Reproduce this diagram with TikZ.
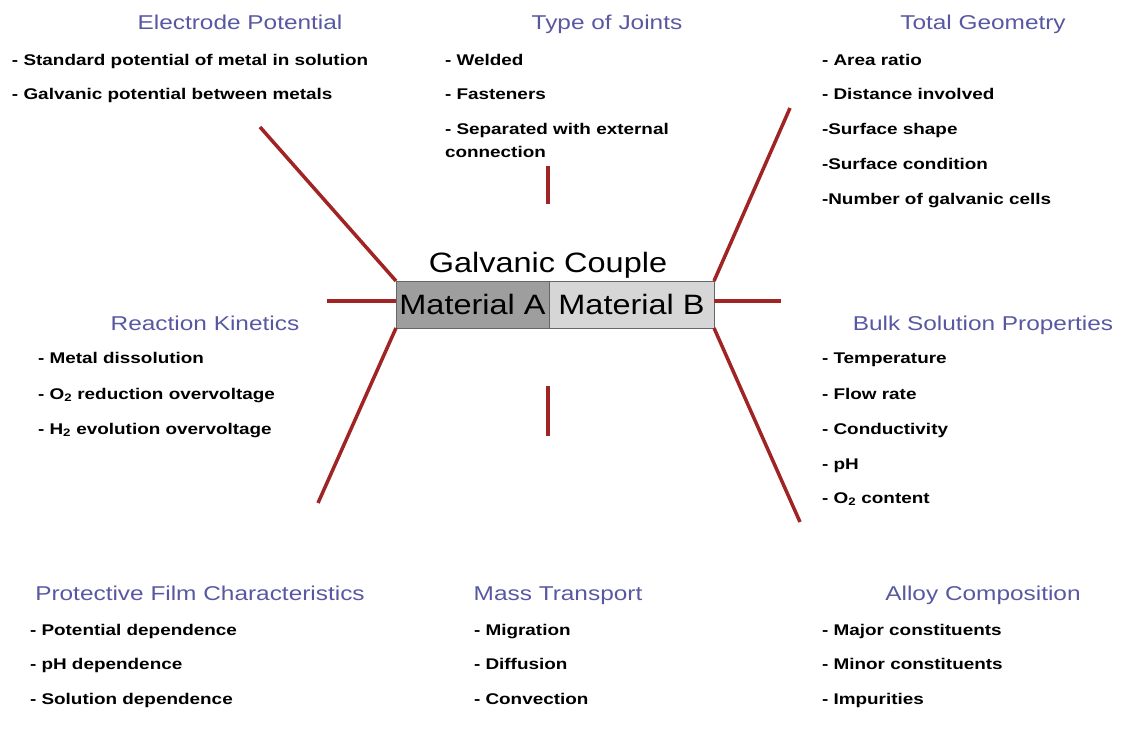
\documentclass[tikz,border=0pt]{standalone}
\usepackage{fontspec}
\setmainfont{Liberation Sans}[FakeStretch=1.22]
\newfontfamily\centerfont{Liberation Sans}[FakeStretch=1.16]
\usepackage{xcolor}
\usetikzlibrary{positioning,calc}
\definecolor{headblue}{RGB}{88,88,162}
\definecolor{branchred}{RGB}{160,36,36}

\begin{document}
\begin{tikzpicture}[x=1pt,y=-1pt,inner sep=0,outer sep=0,
    heading/.style={anchor=base,text=headblue,font=\fontsize{20}{24}\selectfont},
    item/.style={anchor=base west,font=\bfseries\fontsize{15.5}{23}\selectfont},
    branch/.style={branchred,line width=3.5pt},
    matbox/.style={draw=black!60,line width=0.8pt,minimum height=47,font=\centerfont\fontsize{28}{32}\selectfont}]

    % Page frame
    \useasboundingbox (0,0) rectangle (1122,750);

    % The couple
    \node[matbox,fill=black!38,minimum width=153] (matA) at (472.5,304.5) {Material A};
    \node[matbox,fill=black!16,minimum width=165,right=0pt of matA] (matB) {Material B};
    \node[anchor=base,font=\centerfont\fontsize{28}{32}\selectfont] (couple) at (548,272) {Galvanic Couple};

    % Headings
    \node[heading] (hElec) at (240,29) {Electrode Potential};
    \node[heading] (hJoint) at (607,29) {Type of Joints};
    \node[heading] (hGeom) at (983,29) {Total Geometry};
    \node[heading] (hKin) at (205,330) {Reaction Kinetics};
    \node[heading] (hBulk) at (983,330) {Bulk Solution Properties};
    \node[heading] (hFilm) at (200,600) {Protective Film Characteristics};
    \node[heading] (hMass) at (558,600) {Mass Transport};
    \node[heading] (hAlloy) at (983,600) {Alloy Composition};

    % Items
    \node[item] (elec1) at (12,65) {- Standard potential of metal in solution};
    \node[item] (elec2) at (12,99) {- Galvanic potential between metals};

    \node[item] (joint1) at (445,65) {- Welded};
    \node[item] (joint2) at (445,99) {- Fasteners};
    \node[item,align=left] (joint3) at (445,157) {- Separated with external\\connection};

    \foreach \txt [count=\i] in {- Area ratio,- Distance involved,-Surface shape,-Surface condition,-Number of galvanic cells}
      \node[item] (geom\i) at (822,{65+34.8*(\i-1)}) {\txt};

    \node[item] (kin1) at (38,363) {- Metal dissolution};
    \node[item] (kin2) at (38,399) {- O\textsubscript{2} reduction overvoltage};
    \node[item] (kin3) at (38,434) {- H\textsubscript{2} evolution overvoltage};

    \node[item] (bulk1) at (822,363) {- Temperature};
    \node[item] (bulk2) at (822,399) {- Flow rate};
    \node[item] (bulk3) at (822,434) {- Conductivity};
    \node[item] (bulk4) at (822,469) {- pH};
    \node[item] (bulk5) at (822,503) {- O\textsubscript{2} content};

    \foreach \txt [count=\i] in {- Potential dependence,- pH dependence,- Solution dependence}
      \node[item] (film\i) at (30,{635+34.5*(\i-1)}) {\txt};
    \foreach \txt [count=\i] in {- Migration,- Diffusion,- Convection}
      \node[item] (mass\i) at (474,{635+34.5*(\i-1)}) {\txt};
    \foreach \txt [count=\i] in {- Major constituents,- Minor constituents,- Impurities}
      \node[item] (alloy\i) at (822,{635+34.5*(\i-1)}) {\txt};

    % Branch ends
    \coordinate (eUL) at (260,127);
    \coordinate (eUR) at (790,108);
    \coordinate (eL) at (327,301);
    \coordinate (eR) at (781,301);
    \coordinate (eLL) at (318,503);
    \coordinate (eLR) at (800,522);
    \coordinate (eT1) at (548,166);
    \coordinate (eT2) at (548,204);
    \coordinate (eB1) at (548,386);
    \coordinate (eB2) at (548,436);

    % Branches
    \draw[branch] (eUL) -- (matA.north west);
    \draw[branch] (eUR) -- (matB.north east);
    \draw[branch] (eL) -- (matA.west |- eL);
    \draw[branch] (matB.east |- eR) -- (eR);
    \draw[branch] (matA.south west) -- (eLL);
    \draw[branch] (matB.south east) -- (eLR);
    \draw[branch] (eT1) -- (eT2);
    \draw[branch] (eB1) -- (eB2);

\end{tikzpicture}
\end{document}
